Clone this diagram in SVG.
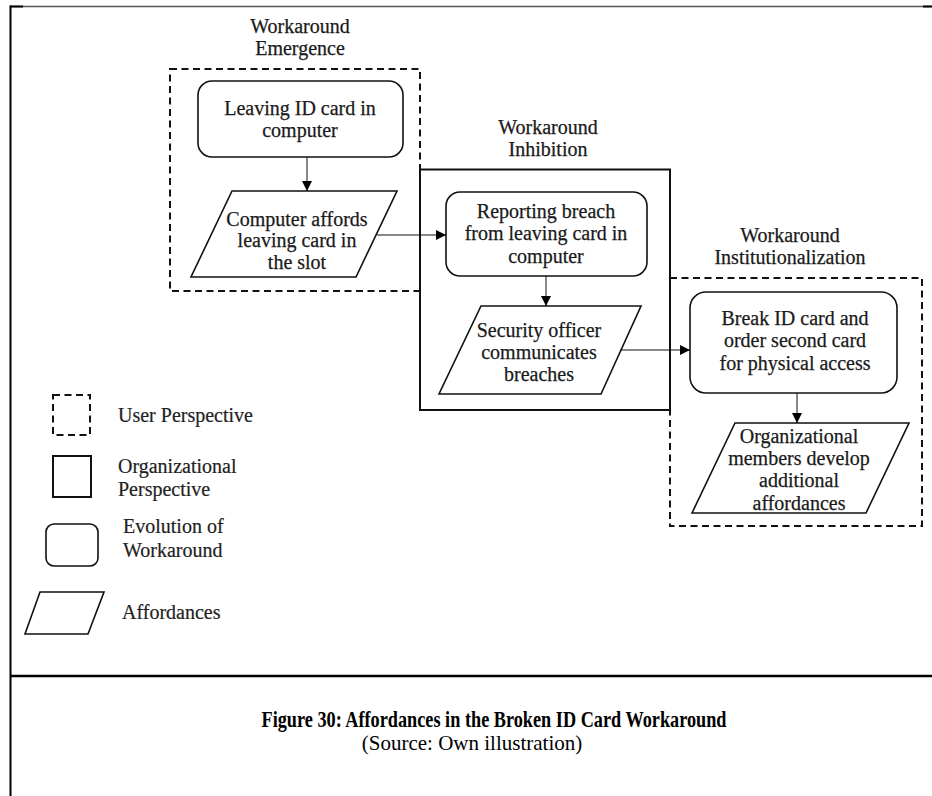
<svg xmlns="http://www.w3.org/2000/svg" width="932" height="796" viewBox="0 0 932 796">
  <style>
    .t { font-family: "Liberation Serif", "Times New Roman", serif; font-size: 20px; fill: #1a1a1a; stroke: #1a1a1a; stroke-width: 0.25; text-anchor: middle; }
    .lt { font-family: "Liberation Serif", "Times New Roman", serif; font-size: 20px; fill: #222; stroke: #222; stroke-width: 0.2; }
    .box { fill: #fff; stroke: #111; stroke-width: 1.6; }
    .dash { fill: none; stroke: #111; stroke-width: 2; stroke-dasharray: 7 4.5; }
    .solid { fill: none; stroke: #111; stroke-width: 2; }
    .conn { stroke: #111; stroke-width: 1; fill: none; marker-end: url(#arrow); }
    .cap { font-family: "Liberation Serif", "Times New Roman", serif; fill: #000; text-anchor: middle; }
  </style>
  <defs>
    <marker id="arrow" viewBox="0 0 10 10" refX="10" refY="5" markerWidth="10" markerHeight="10" markerUnits="userSpaceOnUse" orient="auto">
      <path d="M0,0 L10,5 L0,10 Z" fill="#000"/>
    </marker>
  </defs>

  <rect width="932" height="796" fill="#fff"/>

  <!-- page frame -->
  <g id="frame">
    <line x1="10" y1="6.5" x2="932" y2="6.5" stroke="#555" stroke-width="1.5"/>
    <line x1="10" y1="6.5" x2="23" y2="6.5" stroke="#000" stroke-width="2"/>
    <line x1="923" y1="6.5" x2="932" y2="6.5" stroke="#000" stroke-width="2"/>
    <line x1="10.5" y1="5.5" x2="10.5" y2="796" stroke="#000" stroke-width="2"/>
    <line x1="10" y1="676" x2="932" y2="676" stroke="#000" stroke-width="2.5"/>
  </g>

  <!-- phase containers -->
  <g id="phase-emergence">
    <rect class="dash" x="170" y="69" width="250" height="222"/>
    <text class="t" x="300" y="33">Workaround</text>
    <text class="t" x="300" y="55">Emergence</text>
  </g>
  <g id="phase-inhibition">
    <rect class="solid" x="420" y="169.5" width="250" height="240.5"/>
    <text class="t" x="548" y="134">Workaround</text>
    <text class="t" x="548" y="156">Inhibition</text>
  </g>
  <g id="phase-institutionalization">
    <path class="dash" d="M670,278 H922 V526 H670 V410"/>
    <text class="t" x="790" y="242">Workaround</text>
    <text class="t" x="790" y="264">Institutionalization</text>
  </g>

  <!-- nodes -->
  <g id="leaving-card">
    <rect class="box" x="198" y="81" width="205" height="76" rx="14"/>
    <text class="t" x="300" y="115">Leaving ID card in</text>
    <text class="t" x="300" y="137">computer</text>
  </g>
  <g id="computer-affords">
    <polygon class="box" points="232,191 397,191 356,277 191,277"/>
    <text class="t" x="297" y="226">Computer affords</text>
    <text class="t" x="297" y="247">leaving card in</text>
    <text class="t" x="297" y="269">the slot</text>
  </g>
  <g id="reporting-breach">
    <rect class="box" x="446" y="192" width="201" height="84" rx="14"/>
    <text class="t" x="546" y="218">Reporting breach</text>
    <text class="t" x="546" y="240">from leaving card in</text>
    <text class="t" x="546" y="263">computer</text>
  </g>
  <g id="security-officer">
    <polygon class="box" points="481,306 641,306 601,394 439,394"/>
    <text class="t" x="539" y="337">Security officer</text>
    <text class="t" x="539" y="359">communicates</text>
    <text class="t" x="539" y="381">breaches</text>
  </g>
  <g id="break-card">
    <rect class="box" x="690" y="292" width="207" height="101" rx="16"/>
    <text class="t" x="795" y="325">Break ID card and</text>
    <text class="t" x="795" y="347">order second card</text>
    <text class="t" x="795" y="370">for physical access</text>
  </g>
  <g id="members-develop">
    <polygon class="box" points="735,423 909,423 866,513 692,513"/>
    <text class="t" x="799" y="443">Organizational</text>
    <text class="t" x="799" y="465">members develop</text>
    <text class="t" x="799" y="487">additional</text>
    <text class="t" x="799" y="510">affordances</text>
  </g>

  <!-- connectors -->
  <g id="connectors">
    <line class="conn" x1="307" y1="157" x2="307" y2="191"/>
    <line class="conn" x1="377" y1="235" x2="446" y2="235"/>
    <line class="conn" x1="546" y1="276" x2="546" y2="306"/>
    <line class="conn" x1="620" y1="350" x2="690" y2="350"/>
    <line class="conn" x1="797" y1="393" x2="797" y2="423"/>
  </g>

  <!-- legend -->
  <g id="legend">
    <rect class="dash" x="53" y="395" width="37" height="40" stroke-width="1.8" stroke-dasharray="6 4"/>
    <text class="lt" x="118" y="422">User Perspective</text>
    <rect class="solid" x="53" y="456" width="38" height="41" stroke-width="1.6"/>
    <text class="lt" x="118" y="473">Organizational</text>
    <text class="lt" x="118" y="496">Perspective</text>
    <rect class="box" x="46" y="524" width="52" height="42" rx="8"/>
    <text class="lt" x="123" y="533">Evolution of</text>
    <text class="lt" x="123" y="557">Workaround</text>
    <polygon class="box" points="40,592 104,592 88,634 25,634"/>
    <text class="lt" x="122" y="619">Affordances</text>
  </g>

  <!-- caption -->
  <g id="caption">
    <text class="cap" x="494" y="727" font-size="23" font-weight="bold" textLength="465" lengthAdjust="spacingAndGlyphs">Figure 30: Affordances in the Broken ID Card Workaround</text>
    <text class="cap" x="472" y="750" font-size="21">(Source: Own illustration)</text>
  </g>
</svg>
